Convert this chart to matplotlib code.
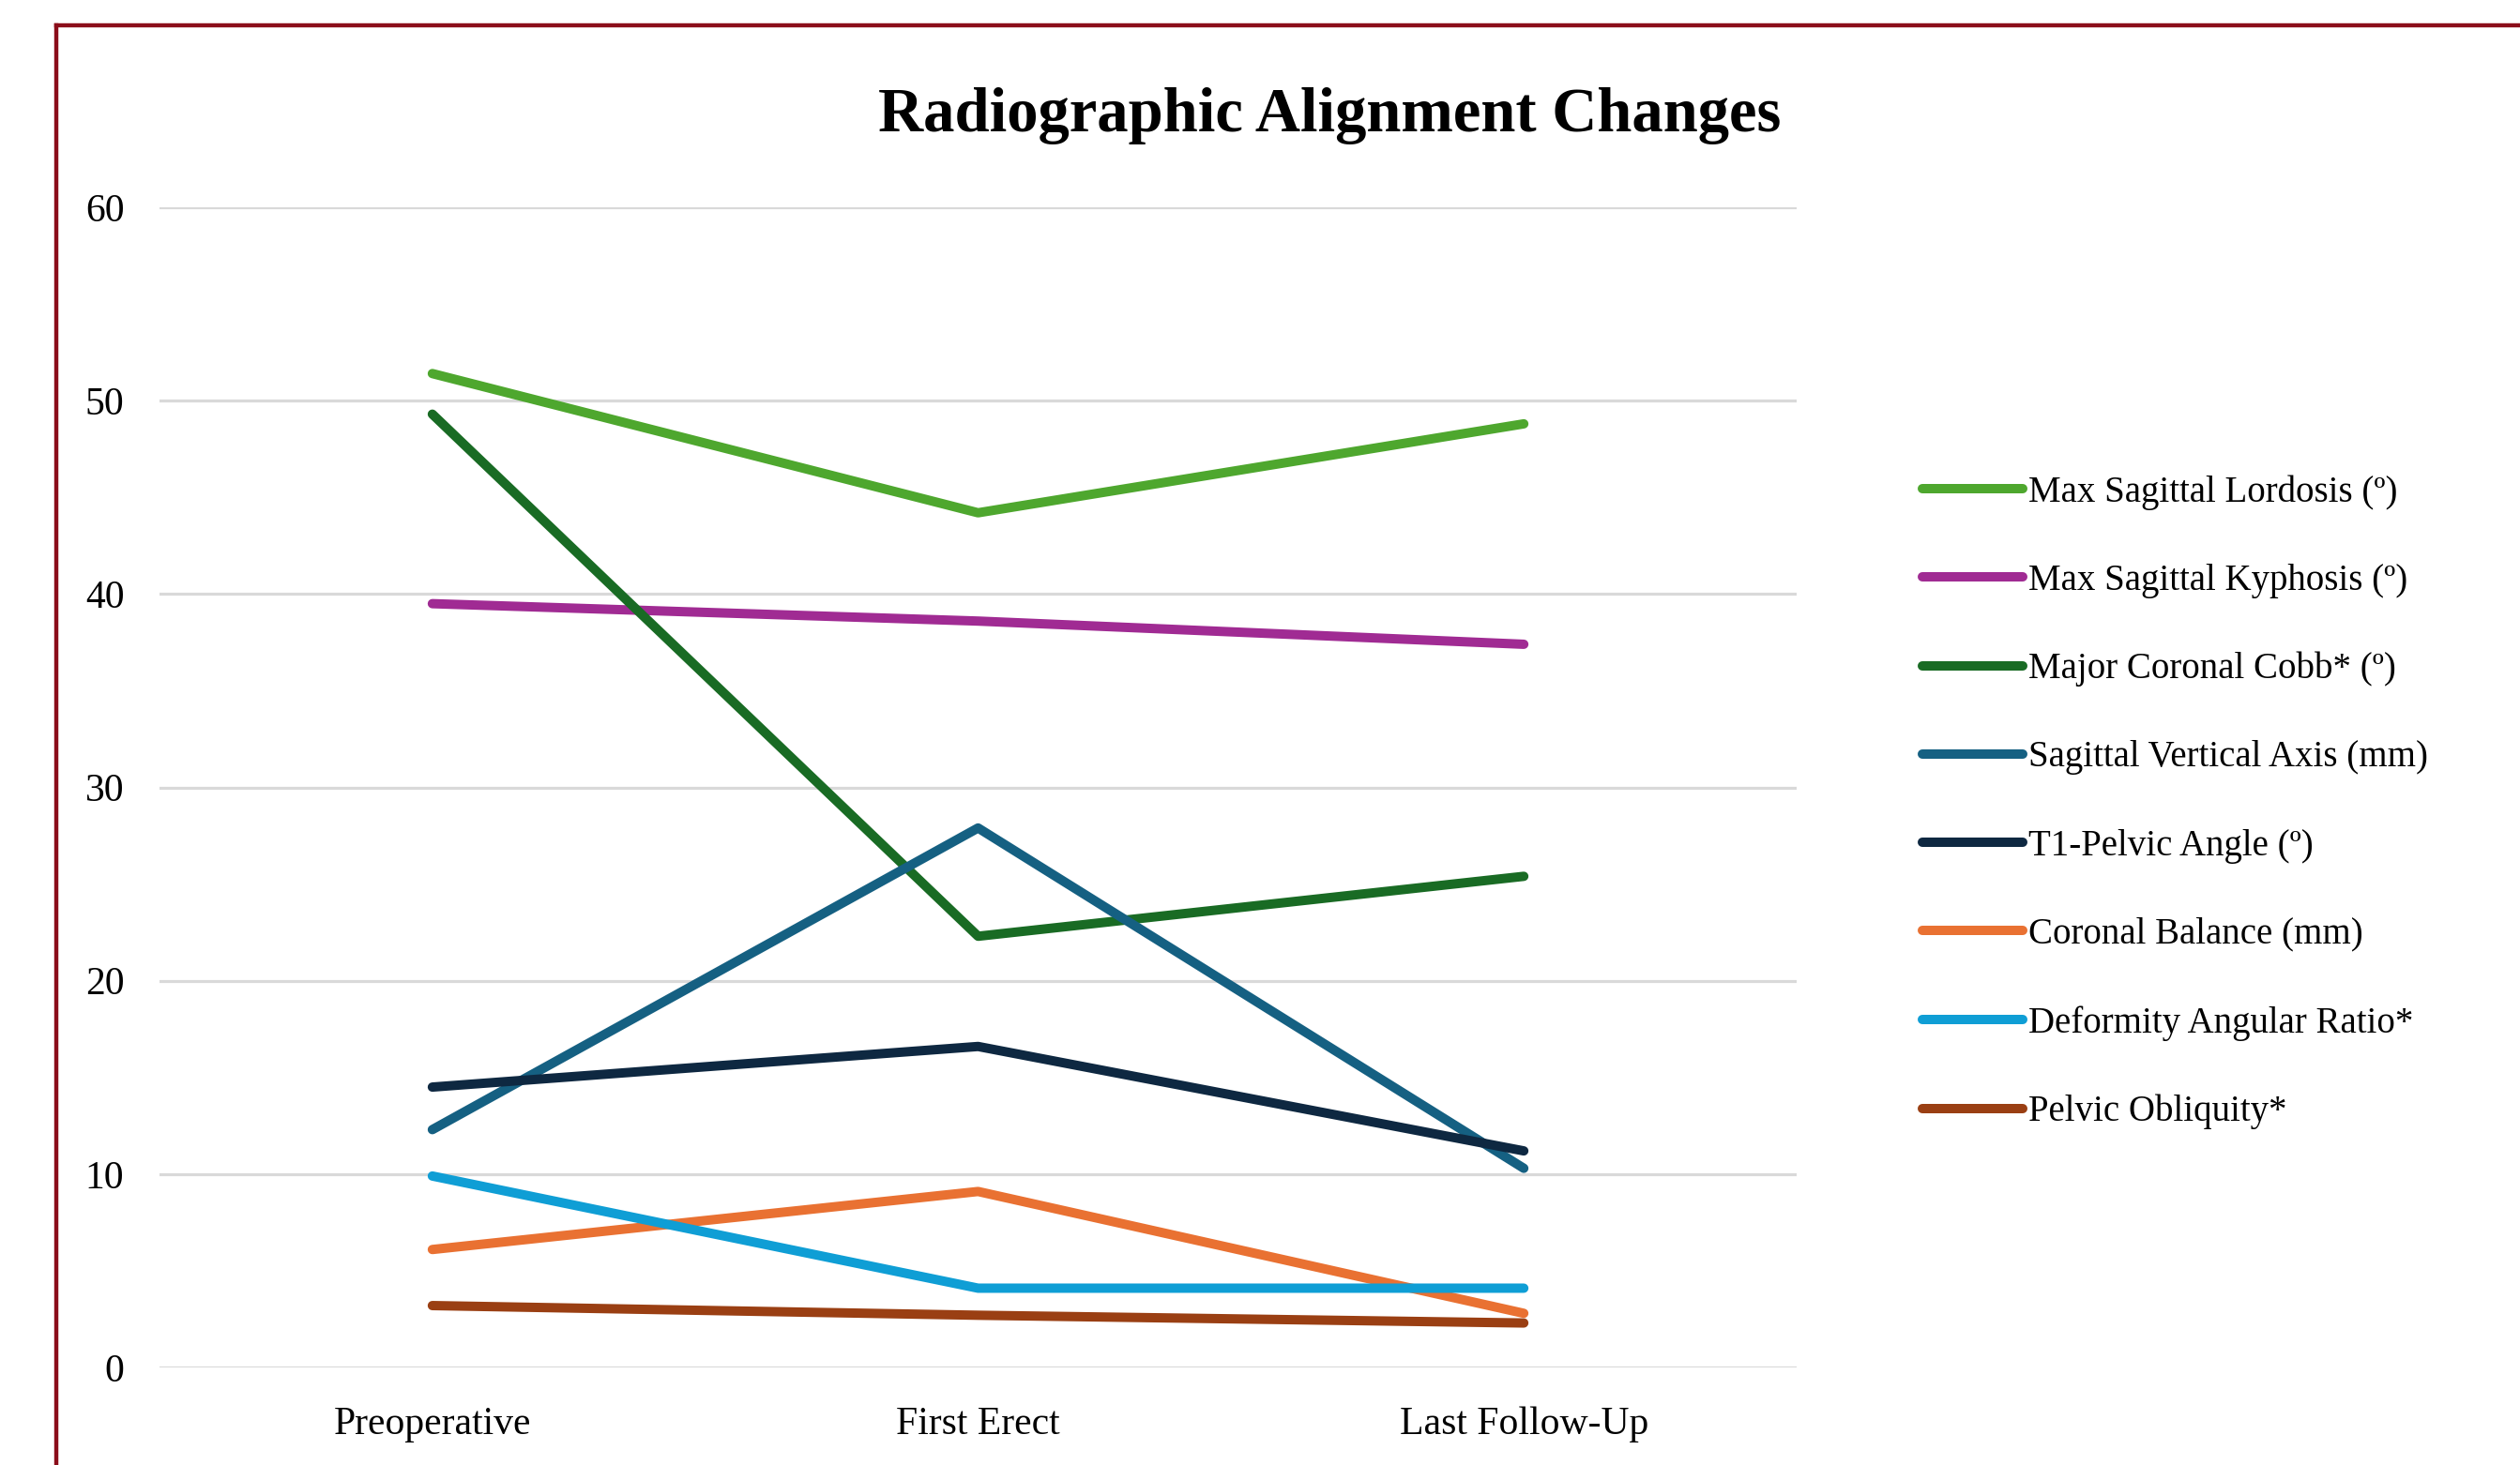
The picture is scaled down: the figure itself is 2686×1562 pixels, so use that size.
import matplotlib
matplotlib.use("Agg")
import matplotlib.pyplot as plt
from matplotlib.lines import Line2D

# data
STAGES = ["Preoperative", "First Erect", "Last Follow-Up"]
LABELS = [
    "Max Sagittal Lordosis (º)",
    "Max Sagittal Kyphosis (º)",
    "Major Coronal Cobb* (º)",
    "Sagittal Vertical Axis (mm)",
    "T1-Pelvic Angle (º)",
    "Coronal Balance (mm)",
    "Deformity Angular Ratio*",
    "Pelvic Obliquity*",
]
lordosis = [51.4, 44.2, 48.8]
kyphosis = [39.5, 38.6, 37.4]
coronal_cobb = [49.3, 22.3, 25.4]
sva = [12.3, 27.9, 10.3]
t1pa = [14.5, 16.6, 11.2]
coronal_balance = [6.1, 9.1, 2.8]
dar = [9.9, 4.1, 4.1]
pelvic_obliquity = [3.2, 2.7, 2.3]
SERIES = [lordosis, kyphosis, coronal_cobb, sva, t1pa,
          coronal_balance, dar, pelvic_obliquity]
COLORS = ["#4EA72E", "#A02B93", "#196B24", "#156082",
          "#0E2841", "#E97132", "#0F9ED5", "#9A3F13"]
Y_TICKS = [0, 10, 20, 30, 40, 50, 60]

FONT = "Liberation Serif"
W, H = 2686, 1562

fig = plt.figure(figsize=(W / 100, H / 100), dpi=100)
ax = fig.add_axes([170 / W, 1 - 1458 / H, (1915 - 170) / W, (1458 - 221) / H])

x = list(range(len(STAGES)))
for vals, lab, col in zip(SERIES, LABELS, COLORS):
    ax.plot(x, vals, color=col, lw=7.2, label=lab,
            solid_capstyle="round", solid_joinstyle="round")

ax.set_xlim(-0.5, 2.5)
ax.set_ylim(0, 60)
ax.set_yticks(Y_TICKS)
ax.set_xticks(x)
ax.set_xticklabels(STAGES)
ax.yaxis.grid(True, color="#D9D9D9", lw=2.3)
ax.set_axisbelow(True)
for s in ax.spines.values():
    s.set_visible(False)
ax.tick_params(axis="both", length=0, labelsize=30)
ax.tick_params(axis="y", pad=27)
ax.tick_params(axis="x", pad=30)
for t in ax.get_xticklabels() + ax.get_yticklabels():
    t.set_fontfamily(FONT)

fig.text(1417 / W, 1 - 123 / H, "Radiographic Alignment Changes",
         ha="center", va="center", fontsize=48, fontweight="bold",
         family=FONT)

leg = ax.legend(loc="upper left", bbox_to_anchor=(2049 / W, 1 - 506 / H),
                bbox_transform=fig.transFigure, frameon=False,
                prop={"family": FONT, "size": 28},
                handlelength=2.75, handletextpad=0.15, labelspacing=1.47,
                borderaxespad=0, borderpad=0)

# dark red page border (left and top edges only are visible)
red = "#8B0E1A"
fig.add_artist(Line2D([60 / W, 60 / W], [0, 1 - 27 / H], color=red, lw=3.2,
                      transform=fig.transFigure))
fig.add_artist(Line2D([60 / W, 1], [1 - 27 / H, 1 - 27 / H], color=red, lw=3.2,
                      transform=fig.transFigure))

fig.savefig("out.png", dpi=100)
